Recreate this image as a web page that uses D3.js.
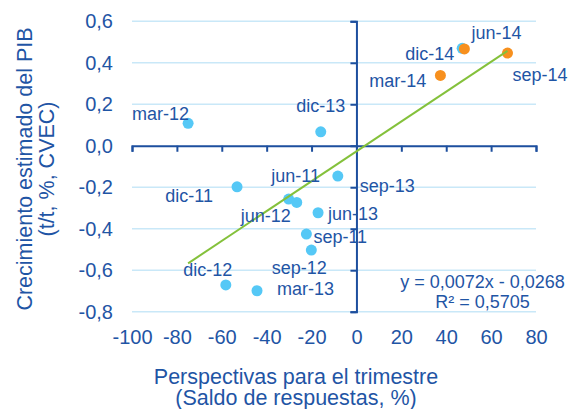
<!DOCTYPE html>
<html lang='es'>
<head>
  <meta charset='UTF-8'>
  <title>PIB vs perspectivas</title>
  <script src="https://d3js.org/d3.v7.min.js"></script>
  <style>
    body { margin: 0; background: #fff; }
    svg { font-family: 'Liberation Sans', Arial, sans-serif; }
    .axis path, .axis line { stroke: #1d4f9e; stroke-width: 2; }
    .axis text { fill: #1f55a5; font-size: 20px; }
  </style>
</head>
<body>
  <div id="chart"></div>
  <script>
    // trimestres
    const labels = ['jun-11', 'sep-11', 'dic-11', 'mar-12', 'jun-12', 'sep-12', 'dic-12', 'mar-13',
      'jun-13', 'sep-13', 'dic-13', 'dic-14', 'mar-14', 'jun-14', 'sep-14'];
    // saldo de respuestas (%)
    const saldo = [-30.2, -22.3, -53.2, -75.0, -26.6, -20.1, -58.2, -44.3,
      -17.1, -8.3, -15.9, 47.1, 37.4, 48.1, 67.3];
    // crecimiento PIB t/t
    const pib = [-0.257, -0.426, -0.198, 0.108, -0.273, -0.503, -0.671, -0.699,
      -0.323, -0.146, 0.067, 0.470, 0.339, 0.467, 0.447];
    const grupo = ['a', 'a', 'a', 'a', 'a', 'a', 'a', 'a', 'a', 'a', 'a', 'a', 'b', 'b', 'b'];

    const xTicks = [-100, -80, -60, -40, -20, 0, 20, 40, 60, 80];
    const yTicks = [0.6, 0.4, 0.2, 0, -0.2, -0.4, -0.6, -0.8];

    const slope = 0.0072;
    const intercept = -0.0268;
    const eqText = 'y = 0,0072x - 0,0268';
    const r2Text = 'R² = 0,5705';

    // colocación de etiquetas (px respecto al punto)
    const labelPos = {
      'jun-11': [7, -17, 'middle'], 'sep-11': [7, 9, 'start'], 'dic-11': [-24, 15, 'end'],
      'mar-12': [1, -3, 'end'], 'jun-12': [-6, 20, 'end'], 'sep-12': [-12, 24, 'middle'],
      'dic-12': [-18, -9, 'middle'], 'mar-13': [20, 4, 'start'], 'jun-13': [10, 7, 'start'],
      'sep-13': [22, 16, 'start'], 'dic-13': [0, -20, 'middle'], 'dic-14': [-8, 12, 'end'],
      'mar-14': [-14, 12, 'end'], 'jun-14': [7, -10, 'start'], 'sep-14': [5, 28, 'start']
    };

    const colors = { a: '#55c8f6', b: '#f7901e' };
    const textColor = '#1f55a5';

    const W = 571, H = 409;
    const mLeft = 132, mRight = 536, mTop = 21.3, mBottom = 311.7;

    const svg = d3.select('#chart').append('svg')
      .attr('width', W).attr('height', H);

    const xScale = d3.scaleLinear().domain([-100, 80]).range([mLeft, mRight]);
    const yScale = d3.scaleLinear().domain([-0.8, 0.6]).range([mBottom, mTop]);

    const fmt = (d) => d3.format('.1f')(d).replace('.', ',').replace('−', '-');

    // rejilla
    svg.append('g')
      .selectAll('line')
      .data(yTicks.filter((d) => d !== 0))
      .join('line')
      .attr('x1', mLeft).attr('x2', mRight)
      .attr('y1', (d) => yScale(d)).attr('y2', (d) => yScale(d))
      .attr('stroke', '#c9e8f8').attr('stroke-width', 1.5);

    // etiquetas de ejes (en los bordes)
    svg.append('g')
      .attr('class', 'axis axis-ylab')
      .attr('transform', `translate(${mLeft}, 0)`)
      .call(d3.axisLeft(yScale).tickValues(yTicks).tickSize(0).tickPadding(19).tickFormat(fmt))
      .call((g) => g.select('.domain').remove());

    svg.append('g')
      .attr('class', 'axis axis-xlab')
      .attr('transform', `translate(0, ${mBottom})`)
      .call(d3.axisBottom(xScale).tickValues(xTicks).tickSize(0).tickPadding(18.5).tickFormat((d) => String(d)))
      .call((g) => g.select('.domain').remove());

    // ejes que cruzan en 0
    svg.append('g')
      .attr('class', 'axis axis-x')
      .attr('transform', `translate(0, ${yScale(0)})`)
      .call(d3.axisBottom(xScale).tickValues(xTicks).tickSizeInner(6).tickSizeOuter(6).tickFormat(''));

    svg.append('g')
      .attr('class', 'axis axis-y')
      .attr('transform', `translate(${xScale(0)}, 0)`)
      .call(d3.axisLeft(yScale).tickValues(yTicks).tickSizeInner(6).tickSizeOuter(6).tickFormat(''));

    // puntos
    const pts = labels.map((l, i) => ({ label: l, x: saldo[i], y: pib[i], g: grupo[i] }));
    const ordered = pts.filter((d) => d.g === 'a').concat(pts.filter((d) => d.g === 'b'));

    svg.append('g')
      .selectAll('circle')
      .data(ordered)
      .join('circle')
      .attr('cx', (d) => xScale(d.x))
      .attr('cy', (d) => yScale(d.y))
      .attr('r', 5.5)
      .attr('fill', (d) => colors[d.g]);

    // línea de tendencia
    const xr = d3.extent(saldo);
    svg.append('path')
      .datum(xr)
      .attr('fill', 'none')
      .attr('stroke', '#84c13b')
      .attr('stroke-width', 2)
      .attr('d', d3.line().x((d) => xScale(d)).y((d) => yScale(slope * d + intercept)));

    // etiquetas de datos
    svg.append('g')
      .selectAll('text')
      .data(pts)
      .join('text')
      .attr('x', (d) => xScale(d.x) + labelPos[d.label][0])
      .attr('y', (d) => yScale(d.y) + labelPos[d.label][1])
      .attr('text-anchor', (d) => labelPos[d.label][2])
      .attr('fill', textColor)
      .attr('font-size', 18)
      .text((d) => d.label);

    // ecuación
    svg.append('text')
      .attr('x', 482.5).attr('y', 288)
      .attr('text-anchor', 'middle').attr('fill', textColor).attr('font-size', 18)
      .text(eqText);
    svg.append('text')
      .attr('x', 482.5).attr('y', 308)
      .attr('text-anchor', 'middle').attr('fill', textColor).attr('font-size', 18)
      .text(r2Text);

    // títulos
    const xt = svg.append('text')
      .attr('text-anchor', 'middle').attr('fill', textColor).attr('font-size', 21.5);
    xt.append('tspan').attr('x', 296).attr('y', 383.5).text('Perspectivas para el trimestre');
    xt.append('tspan').attr('x', 296).attr('y', 404.5).text('(Saldo de respuestas, %)');

    const yt = svg.append('text')
      .attr('transform', 'translate(0, 169) rotate(-90)')
      .attr('text-anchor', 'middle').attr('fill', textColor).attr('font-size', 21.5);
    yt.append('tspan').attr('x', 0).attr('y', 31.5).text('Crecimiento estimado del PIB');
    yt.append('tspan').attr('x', 0).attr('y', 53.5).text('(t/t, %, CVEC)');
  </script>
</body>
</html>
